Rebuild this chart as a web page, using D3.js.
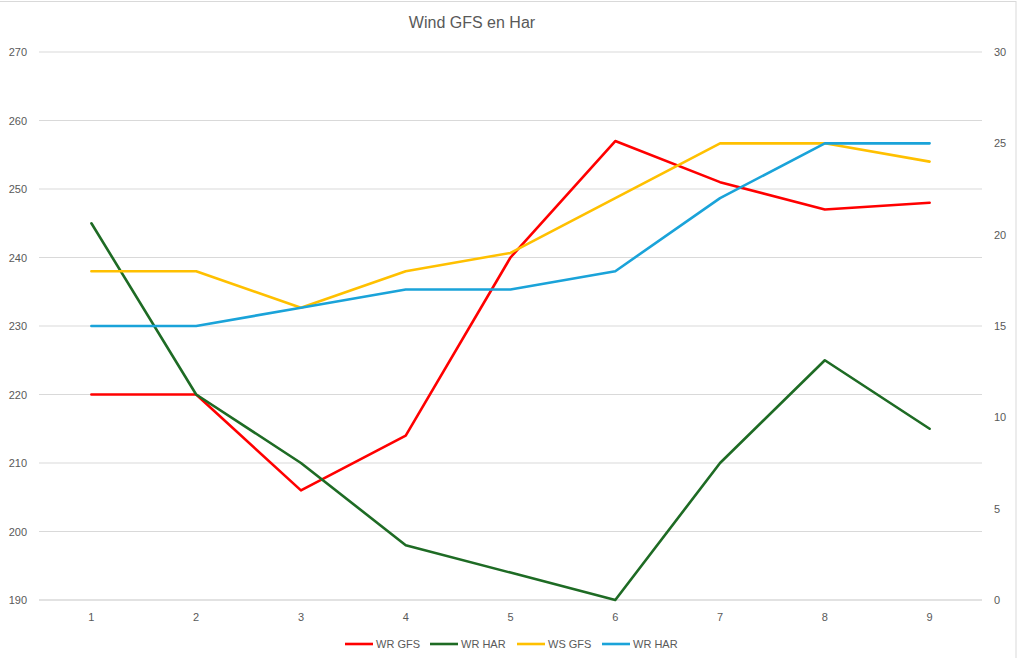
<!DOCTYPE html>
<html>
<head>
<meta charset="utf-8">
<script src="https://cdnjs.cloudflare.com/ajax/libs/d3/7.8.5/d3.min.js"></script>
<style>
  body { margin: 0; background: #fff; }
  svg { display: block; font-family: "Liberation Sans", Arial, sans-serif; }
</style>
</head>
<body>
<svg id="chart" width="1024" height="658"></svg>
<script>
// categories on x axis
let categories = [1, 2, 3, 4, 5, 6, 7, 8, 9];

// left axis series (direction)
let wrGfs = [220, 220, 206, 214, 240, 257, 251, 247, 248];
let wrHar = [245, 220, 210, 198, 194, 190, 210, 225, 215];

// right axis series (speed)
let wsGfs = [18, 18, 16, 18, 19, 22, 25, 25, 24];
let wsHar = [15, 15, 16, 17, 17, 18, 22, 25, 25];

let leftTicks = [190, 200, 210, 220, 230, 240, 250, 260, 270];
let rightTicks = [0, 5, 10, 15, 20, 25, 30];

let seriesNames = ['WR GFS', 'WR HAR', 'WS GFS', 'WR HAR'];
let seriesColors = ['#ff0000', '#1e6b24', '#ffc000', '#1aa3d9'];

let svg = d3.select('#chart');

// chart frame
svg.append('rect')
    .attr('x', -1).attr('y', 1.5)
    .attr('width', 1017).attr('height', 700)
    .attr('fill', 'none')
    .attr('stroke', '#d9d9d9');

let plotLeft = 39, plotRight = 982, plotTop = 52, plotBottom = 600;

let x = d3.scalePoint().domain(categories).range([plotLeft, plotRight]).padding(0.5);
let yL = d3.scaleLinear().domain([190, 270]).range([plotBottom, plotTop]);
let yR = d3.scaleLinear().domain([0, 30]).range([plotBottom, plotTop]);

// gridlines from primary axis
svg.append('g')
    .selectAll('line')
    .data(leftTicks)
    .join('line')
    .attr('x1', plotLeft).attr('x2', plotRight)
    .attr('y1', d => yL(d)).attr('y2', d => yL(d))
    .attr('stroke', '#d9d9d9')
    .attr('stroke-width', d => d === 190 ? 1.5 : 1);

// left axis labels
svg.append('g')
    .selectAll('text')
    .data(leftTicks)
    .join('text')
    .attr('x', 27).attr('y', d => yL(d) + 4)
    .attr('text-anchor', 'end')
    .attr('font-size', 11)
    .attr('fill', '#595959')
    .text(d => d);

// right axis labels
svg.append('g')
    .selectAll('text')
    .data(rightTicks)
    .join('text')
    .attr('x', 994).attr('y', d => yR(d) + 4)
    .attr('text-anchor', 'start')
    .attr('font-size', 11)
    .attr('fill', '#595959')
    .text(d => d);

// x labels
svg.append('g')
    .selectAll('text')
    .data(categories)
    .join('text')
    .attr('x', d => x(d)).attr('y', 621)
    .attr('text-anchor', 'middle')
    .attr('font-size', 11)
    .attr('fill', '#595959')
    .text(d => d);

// title
svg.append('text')
    .attr('x', 472).attr('y', 28)
    .attr('text-anchor', 'middle')
    .attr('font-size', 16)
    .attr('fill', '#595959')
    .text('Wind GFS en Har');

// lines
let series = [
    { values: wrGfs, scale: yL },
    { values: wrHar, scale: yL },
    { values: wsGfs, scale: yR },
    { values: wsHar, scale: yR }
];

series.forEach((s, i) => {
    let line = d3.line()
        .x((d, j) => x(categories[j]))
        .y(d => s.scale(d));
    svg.append('path')
        .datum(s.values)
        .attr('d', line)
        .attr('fill', 'none')
        .attr('stroke', seriesColors[i])
        .attr('stroke-width', 2.6)
        .attr('stroke-linejoin', 'round')
        .attr('stroke-linecap', 'round');
});

// legend
let legendX = [345, 430, 517, 602];
let legend = svg.append('g');
seriesNames.forEach((name, i) => {
    legend.append('line')
        .attr('x1', legendX[i]).attr('x2', legendX[i] + 28)
        .attr('y1', 644).attr('y2', 644)
        .attr('stroke', seriesColors[i])
        .attr('stroke-width', 2.6);
    legend.append('text')
        .attr('x', legendX[i] + 31).attr('y', 648)
        .attr('font-size', 11)
        .attr('fill', '#595959')
        .text(name);
});
</script>
</body>
</html>
